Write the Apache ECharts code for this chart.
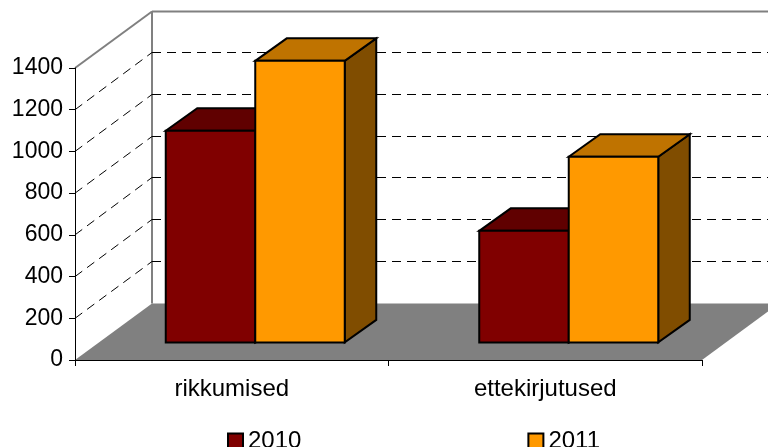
<!doctype html>
<html>
<head>
<meta charset="utf-8">
<title>rikkumised</title>
<style>
html, body { margin: 0; padding: 0; background: #fff; }
#main { width: 768px; height: 447px; }
</style>
</head>
<body>
<div id="main"></div>
<script src="https://cdn.jsdelivr.net/npm/echarts@6/dist/echarts.min.js"></script>
<script>
var categories = ['rikkumised', 'ettekirjutused'];
var values2010 = [1015, 535];
var values2011 = [1350, 890];
var gridValues = [200, 400, 600, 800, 1000, 1200];
var yMax = 1400;

// 3d look: how far back wall and bars sit from the front plane
var WALL_DX = 77, WALL_DY = 56.5;
var BAR_OFF_X = 23.5, BAR_OFF_Y = 17.6;
var BAR_DX = 31.5, BAR_DY = 22.5;
var BAR_W = 89.5;
var FONT = '"Liberation Sans", Arial, sans-serif';

var myChart = echarts.init(document.getElementById('main'));

function line(x1, y1, x2, y2, style) {
	return { type: 'line', shape: { x1: x1, y1: y1, x2: x2, y2: y2 }, style: style };
}

function poly(points, fill) {
	return {
		type: 'polygon',
		shape: { points: points },
		style: { fill: fill, stroke: '#000', lineWidth: 2, lineJoin: 'miter' }
	};
}

// floor and the two grey walls edges
function renderFrame(params, api) {
	var a = api.coord([0, 0]);
	var x0 = a[0] - api.size([1, 0])[0] / 2;
	var y0 = a[1];
	var x1 = x0 + api.size([1, 0])[0] * categories.length;
	var yTop = api.coord([0, yMax])[1];
	var grey = { stroke: '#808080', lineWidth: 2, fill: null };
	return {
		type: 'group',
		children: [
			{
				type: 'polygon',
				shape: { points: [[x0, y0], [x0 + WALL_DX, y0 - WALL_DY], [x1 + WALL_DX, y0 - WALL_DY], [x1, y0]] },
				style: { fill: '#808080' }
			},
			line(x0, yTop, x0 + WALL_DX, yTop - WALL_DY, grey),
			line(x0 + WALL_DX, yTop - WALL_DY, x0 + WALL_DX, y0 - WALL_DY, grey),
			line(x0 + WALL_DX, yTop - WALL_DY, 780, yTop - WALL_DY, grey)
		]
	};
}

// dashed gridline going along the side wall then the back wall
function renderGridline(params, api) {
	var a = api.coord([0, api.value(1)]);
	var x0 = a[0] - api.size([1, 0])[0] / 2;
	var back = Math.round(a[1] - WALL_DY - 1) + 0.5;
	var dash = { stroke: '#000', lineWidth: 1, lineDash: [9, 6], fill: null };
	return {
		type: 'group',
		children: [
			line(x0, a[1], x0 + WALL_DX, back, dash),
			line(x0 + WALL_DX, back, 780, back, dash)
		]
	};
}

function barRenderer(side, front, top, right) {
	return function (params, api) {
		var i = api.value(0);
		var cx = api.coord([i, 0])[0] + BAR_OFF_X;
		var yb = api.coord([i, 0])[1] - BAR_OFF_Y;
		var yt = api.coord([i, api.value(1)])[1] - BAR_OFF_Y;
		var xl = cx + side * BAR_W;
		var xr = xl + BAR_W;
		return {
			type: 'group',
			children: [
				poly([[xr, yt], [xr + BAR_DX, yt - BAR_DY], [xr + BAR_DX, yb - BAR_DY], [xr, yb]], right),
				poly([[xl, yt], [xl + BAR_DX, yt - BAR_DY], [xr + BAR_DX, yt - BAR_DY], [xr, yt]], top),
				poly([[xl, yt], [xr, yt], [xr, yb], [xl, yb]], front)
			]
		};
	};
}

function pairs(arr) {
	return arr.map(function (v, i) { return [i, v]; });
}

var option = {
	animation: false,
	backgroundColor: '#fff',
	grid: { left: 75, right: 66, top: 68, bottom: 87 },
	legend: {
		data: ['2010', '2011'],
		left: 222,
		top: 424,
		itemWidth: 15,
		itemHeight: 15,
		itemGap: 226,
		icon: 'rect',
		itemStyle: { borderColor: '#000', borderWidth: 2 },
		textStyle: { fontFamily: FONT, fontSize: 24, color: '#000' }
	},
	xAxis: {
		type: 'category',
		data: categories,
		z: 5,
		axisLine: { lineStyle: { color: '#000', width: 1 } },
		axisTick: { show: true, length: 6, lineStyle: { color: '#000' } },
		axisLabel: { margin: 17, color: '#000', fontFamily: FONT, fontSize: 24 }
	},
	yAxis: {
		type: 'value',
		min: 0,
		max: yMax,
		interval: 200,
		z: 5,
		splitLine: { show: false },
		axisLine: { show: true, lineStyle: { color: '#000', width: 1 } },
		axisTick: { show: true, length: 6, lineStyle: { color: '#000' } },
		axisLabel: {
			margin: 12,
			color: '#000',
			fontFamily: FONT,
			fontSize: 23,
			padding: [3, 0, 0, 0],
			formatter: function (v) { return String(v); }
		}
	},
	series: [
		{ type: 'custom', name: 'frame', renderItem: renderFrame, data: [[0, 0]], z: 1, silent: true },
		{ type: 'custom', name: 'grid', renderItem: renderGridline, data: gridValues.map(function (v) { return [0, v]; }), z: 2, silent: true },
		{
			type: 'custom',
			name: '2010',
			renderItem: barRenderer(-1, '#800000', '#600000', '#400000'),
			itemStyle: { color: '#800000' },
			encode: { x: 0, y: 1 },
			data: pairs(values2010),
			z: 3
		},
		{
			type: 'custom',
			name: '2011',
			renderItem: barRenderer(0, '#ff9900', '#bf7300', '#804d00'),
			itemStyle: { color: '#ff9900' },
			encode: { x: 0, y: 1 },
			data: pairs(values2011),
			z: 4
		}
	]
};
myChart.setOption(option);
</script>
</body>
</html>
